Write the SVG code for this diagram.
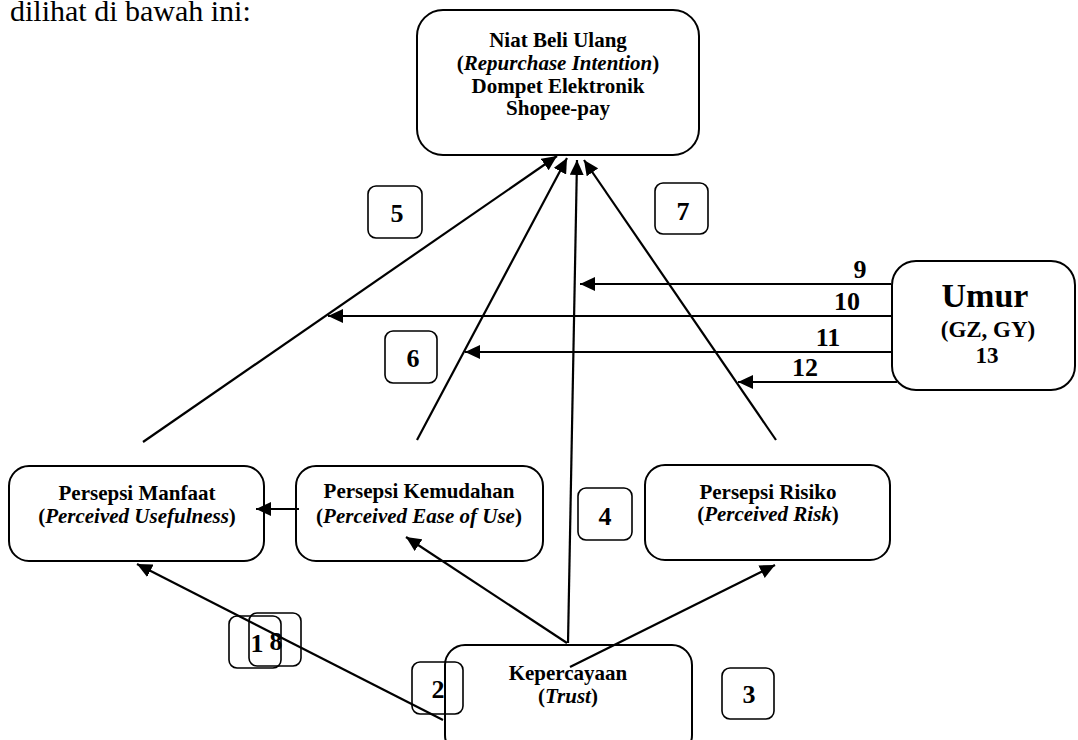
<svg xmlns="http://www.w3.org/2000/svg" width="1078" height="740" viewBox="0 0 1078 740">
<style>
.box{fill:none;stroke:#000;stroke-width:2}
.num{fill:none;stroke:#000;stroke-width:1.6}
.t{font-family:"Liberation Serif","Times New Roman",serif;font-weight:bold;font-size:21px;text-anchor:middle;fill:#000}
.i{font-style:italic}
.n{font-family:"Liberation Serif","Times New Roman",serif;font-weight:bold;font-size:26px;text-anchor:middle;fill:#000}
.c{fill:none;stroke:#000;stroke-width:2.2;marker-end:url(#ah)}
</style>
<defs>
<marker id="ah" markerUnits="userSpaceOnUse" markerWidth="16" markerHeight="14" refX="15" refY="7" orient="auto">
<path d="M0,0 L15,7 L0,14 z" fill="#000"/>
</marker>
</defs>
<rect width="1078" height="740" fill="#fff"/>
<text x="10" y="21" font-family="Liberation Serif, Times New Roman, serif" font-size="30" fill="#000">dilihat di bawah ini:</text>

<g id="connectors">
<line class="c" x1="443" y1="720" x2="137" y2="564"/>
<line class="c" x1="567" y1="643" x2="406" y2="537"/>
<line class="c" x1="570" y1="667" x2="775" y2="565"/>
<line class="c" x1="568" y1="643" x2="577" y2="160"/>
<line class="c" x1="143" y1="442" x2="557" y2="156"/>
<line class="c" x1="417" y1="440" x2="567" y2="158"/>
<line class="c" x1="776" y1="440" x2="584" y2="160"/>
<line class="c" x1="299" y1="509" x2="256" y2="509"/>
<line class="c" x1="891" y1="284" x2="580" y2="284"/>
<line class="c" x1="891" y1="316" x2="328" y2="316"/>
<line class="c" x1="891" y1="352" x2="465" y2="352"/>
<line class="c" x1="897" y1="382" x2="738" y2="382"/>
</g>

<g id="n-niat">
<rect class="box" x="417" y="10" width="282" height="145" rx="26"/>
<text class="t" x="558" y="47">Niat Beli Ulang</text>
<text class="t" x="558" y="70">(<tspan class="i">Repurchase Intention</tspan>)</text>
<text class="t" x="558" y="93">Dompet Elektronik</text>
<text class="t" x="558" y="115">Shopee-pay</text>
</g>

<g id="n-umur">
<rect class="box" x="892" y="261" width="183" height="129" rx="24"/>
<text class="t" x="985" y="307" style="font-size:34px">Umur</text>
<text class="t" x="988" y="337" style="font-size:23px">(GZ, GY)</text>
<text class="t" x="987" y="363" style="font-size:23px">13</text>
</g>

<g id="n-manfaat">
<rect class="box" x="9" y="466" width="255" height="95" rx="20"/>
<text class="t" x="137" y="500">Persepsi Manfaat</text>
<text class="t" x="137" y="523">(<tspan class="i">Perceived Usefulness</tspan>)</text>
</g>

<g id="n-kemudahan">
<rect class="box" x="296" y="466" width="247" height="95" rx="20"/>
<text class="t" x="419" y="498">Persepsi Kemudahan</text>
<text class="t" x="419" y="523">(<tspan class="i">Perceived Ease of Use</tspan>)</text>
</g>

<g id="n-risiko">
<rect class="box" x="645" y="465" width="245" height="95" rx="20"/>
<text class="t" x="768" y="499">Persepsi Risiko</text>
<text class="t" x="768" y="521">(<tspan class="i">Perceived Risk</tspan>)</text>
</g>

<g id="n-trust">
<rect class="box" x="445" y="645" width="247" height="110" rx="20"/>
<text class="t" x="568" y="680">Kepercayaan</text>
<text class="t" x="568" y="703">(<tspan class="i">Trust</tspan>)</text>
</g>

<g id="labels">
<text class="n" x="860" y="278">9</text>
<text class="n" x="847" y="310">10</text>
<text class="n" x="828" y="346">11</text>
<text class="n" x="805" y="376">12</text>
</g>

<g id="b5"><rect class="num" x="368" y="186" width="54" height="52" rx="8"/><text class="n" x="397" y="222">5</text></g>
<g id="b7"><rect class="num" x="655" y="183" width="53" height="51" rx="8"/><text class="n" x="683" y="220">7</text></g>
<g id="b6"><rect class="num" x="385" y="331" width="52" height="52" rx="8"/><text class="n" x="413" y="367">6</text></g>
<g id="b4"><rect class="num" x="578" y="488" width="54" height="52" rx="8"/><text class="n" x="605" y="525">4</text></g>
<g id="b3"><rect class="num" x="722" y="668" width="52" height="51" rx="8"/><text class="n" x="749" y="703">3</text></g>
<g id="b2"><rect class="num" x="412" y="662" width="51" height="52" rx="8"/><text class="n" x="438" y="698">2</text></g>
<g id="b8"><rect class="num" x="249" y="613" width="52" height="53" rx="8"/><text class="n" x="276" y="650">8</text></g>
<g id="b1"><rect class="num" x="229" y="616" width="52" height="52" rx="8"/><text class="n" x="257" y="652">1</text></g>
</svg>
